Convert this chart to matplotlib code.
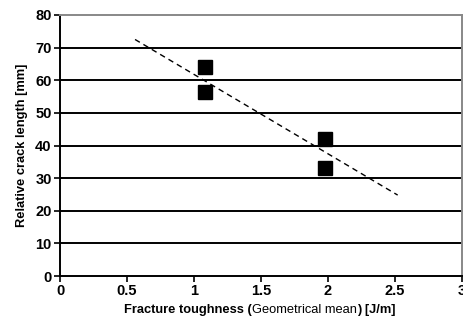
import matplotlib
matplotlib.use("Agg")
import matplotlib.pyplot as plt
from matplotlib.offsetbox import TextArea, HPacker, AnchoredOffsetbox

toughness = [1.08, 1.08, 1.98, 1.98]
crack_length = [64.0, 56.3, 42.0, 33.1]
trend_x = [0.56, 2.52]
trend_y = [72.5, 24.8]
x_ticks = [0, 0.5, 1, 1.5, 2, 2.5, 3]
x_tick_labels = ["0", "0.5", "1", "1.5", "2", "2.5", "3"]
y_ticks = [0, 10, 20, 30, 40, 50, 60, 70, 80]

plt.rcParams['font.family'] = ['Liberation Sans', 'DejaVu Sans']

fig = plt.figure(figsize=(4.63, 3.23), dpi=100)
ax = fig.add_axes([60/463, 1-276/323, 402/463, 261/323])
ax.set_xlim(0, 3)
ax.set_ylim(0, 80)

for y in y_ticks[1:-1]:
    ax.axhline(y, color='black', lw=1.4, zorder=1)

ax.plot(trend_x, trend_y, color='black', ls=(0, (4, 3)), lw=1.0, zorder=2)
ax.plot(toughness, crack_length, ls='none', marker='s', ms=9.5, color='black', zorder=3)

for s in ['top', 'right']:
    ax.spines[s].set_color('#888888')
    ax.spines[s].set_linewidth(1.4)
for s in ['left', 'bottom']:
    ax.spines[s].set_color('black')
    ax.spines[s].set_linewidth(1.4)

ax.set_xticks(x_ticks)
ax.set_xticklabels(x_tick_labels)
ax.set_yticks(y_ticks)
ax.tick_params(axis='both', direction='out', length=4, width=1.2, labelsize=10.5, pad=2)
for lab in ax.get_xticklabels() + ax.get_yticklabels():
    lab.set_fontweight('bold')

ax.set_ylabel("Relative crack length [mm]", fontsize=9.3, fontweight='bold', labelpad=5)

fs = 9.3
boxes = [TextArea("Fracture toughness (", textprops=dict(fontsize=fs, fontweight='bold')),
         TextArea("Geometrical mean", textprops=dict(fontsize=fs, fontweight='normal')),
         TextArea(") [J/m]", textprops=dict(fontsize=fs, fontweight='bold'))]
pack = HPacker(children=boxes, align='baseline', pad=0, sep=0)
anch = AnchoredOffsetbox(loc='center', child=pack, frameon=False,
                         bbox_to_anchor=((121+398)/2/463, 1-310/323),
                         bbox_transform=fig.transFigure, borderpad=0, pad=0)
fig.add_artist(anch)

fig.savefig("out.png", dpi=100)
